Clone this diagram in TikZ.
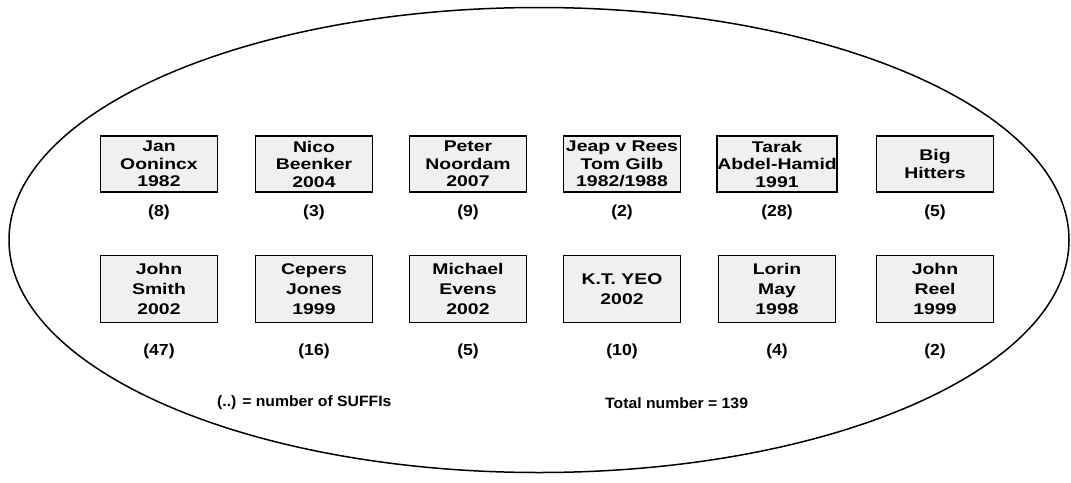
\documentclass[tikz,border=0pt]{standalone}
\usepackage{fontspec}
\setmainfont{Liberation Sans}
\newfontfamily\boxfont[FakeStretch=1.25]{Liberation Sans}
\newfontfamily\lblfont[FakeStretch=1.1]{Liberation Sans}
\newfontfamily\notefont[FakeStretch=1.05]{Liberation Sans}
\usetikzlibrary{shapes.geometric}
\begin{document}
\begin{tikzpicture}[x=1pt,y=-1pt,
  authbox/.style={draw=black,line width=1.8pt,fill=black!6,minimum width=117pt,inner sep=0pt,align=center},
  rowone/.style={authbox,minimum height=56pt,font=\boxfont\fontsize{15.5}{17.5}\selectfont\bfseries},
  rowtwo/.style={authbox,minimum height=67pt,font=\boxfont\fontsize{15.5}{20}\selectfont\bfseries},
  countlbl/.style={font=\lblfont\fontsize{16}{19}\selectfont\bfseries,inner sep=0pt},
  notelbl/.style={font=\notefont\fontsize{15}{18}\selectfont\bfseries,inner sep=0pt,anchor=west}]
\useasboundingbox (0,0) rectangle (1071,482);
\node[draw=black,line width=1.5pt,ellipse,minimum width=1060pt,minimum height=465pt,inner sep=0pt] (oval) at (539,240) {};
% row 1
\node[rowone] (b1) at (159,164) {Jan\\Oonincx\\1982};
\node[rowone] (b2) at (314,164) {Nico\\Beenker\\2004};
\node[rowone] (b3) at (468,164) {Peter\\Noordam\\2007};
\node[rowone] (b4) at (622,164) {Jeap v Rees\\Tom Gilb\\1982/1988};
\node[rowone] (b5) at (777,164) {Tarak\\Abdel-Hamid\\1991};
\node[rowone] (b6) at (935,164) {Big\\Hitters};
\node[countlbl] (c1) at (159,212) {(8)};
\node[countlbl] (c2) at (314,212) {(3)};
\node[countlbl] (c3) at (468,212) {(9)};
\node[countlbl] (c4) at (622,212) {(2)};
\node[countlbl] (c5) at (777,212) {(28)};
\node[countlbl] (c6) at (935,212) {(5)};
% row 2
\node[rowtwo] (d1) at (159,289) {John\\Smith\\2002};
\node[rowtwo] (d2) at (314,289) {Cepers\\Jones\\1999};
\node[rowtwo] (d3) at (468,289) {Michael\\Evens\\2002};
\node[rowtwo] (d4) at (622,289) {K.T. YEO\\2002};
\node[rowtwo] (d5) at (777,289) {Lorin\\May\\1998};
\node[rowtwo] (d6) at (935,289) {John\\Reel\\1999};
\node[countlbl] (e1) at (159,351) {(47)};
\node[countlbl] (e2) at (314,351) {(16)};
\node[countlbl] (e3) at (468,351) {(5)};
\node[countlbl] (e4) at (622,351) {(10)};
\node[countlbl] (e5) at (777,351) {(4)};
\node[countlbl] (e6) at (935,351) {(2)};
% notes
\node[notelbl] (n1) at (217,403) {(..) = number of SUFFIs};
\node[notelbl] (n2) at (605,403) {Total number = 139};
\end{tikzpicture}
\end{document}
